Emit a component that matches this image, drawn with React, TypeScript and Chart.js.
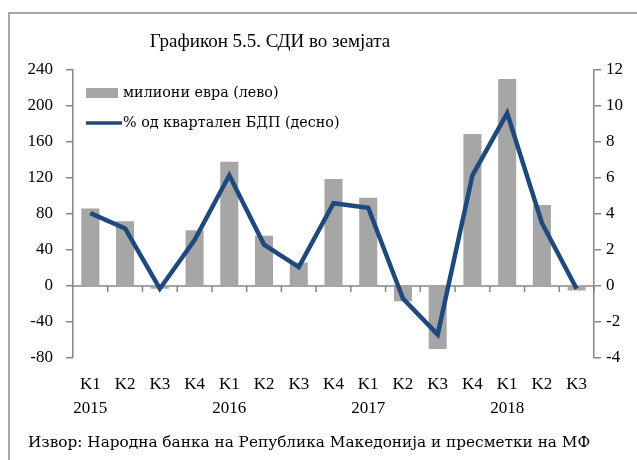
import React, { useEffect, useRef } from "react";
import { Chart, registerables } from "chart.js";

Chart.register(...registerables);

const quarters = ["K1", "K2", "K3", "K4", "K1", "K2", "K3", "K4", "K1", "K2", "K3", "K4", "K1", "K2", "K3"];
const years = ["2015", "", "", "", "2016", "", "", "", "2017", "", "", "", "2018", "", ""];
const fdiMillions = [86, 72, -3, 62, 138, 56, 26, 119, 98, -17, -70, 169, 230, 90, -5];
const fdiPctGdp = [4.05, 3.2, -0.15, 2.55, 6.15, 2.3, 1.05, 4.6, 4.35, -0.7, -2.7, 6.15, 9.6, 3.5, -0.15];
const leftTicks = [240, 200, 160, 120, 80, 40, 0, -40, -80];
const rightTicks = [12, 10, 8, 6, 4, 2, 0, -2, -4];

const titleText = "Графикон 5.5. СДИ во земјата";
const barLabel = "милиони евра (лево)";
const lineLabel = "% од квартален БДП (десно)";
const sourceText = "Извор: Народна банка на Република Македонија и пресметки на МФ";

const FONT = "'Liberation Serif', serif";
const FONT2 = "'DejaVu Serif', serif";
const AXIS = "#868686";
const BAR = "#A6A6A6";
const LINE = "#1F497D";

const decor = {
  id: "decor",
  beforeDraw(chart: any) {
    const ctx = chart.ctx;
    ctx.save();
    ctx.fillStyle = "#fff";
    ctx.fillRect(0, 0, chart.width, chart.height);
    ctx.strokeStyle = "#8c8c8c";
    ctx.lineWidth = 1.5;
    ctx.strokeRect(9, 13, chart.width + 20, chart.height + 20);
    ctx.restore();
  },
  beforeDatasetsDraw(chart: any) {
    const ctx = chart.ctx;
    const x = chart.scales.x;
    const y = chart.scales.y;
    const area = chart.chartArea;
    const y0 = y.getPixelForValue(0);
    ctx.save();
    ctx.strokeStyle = AXIS;
    ctx.lineWidth = 1.5;
    ctx.beginPath();
    ctx.moveTo(area.left, y0);
    ctx.lineTo(area.right, y0);
    const n = quarters.length;
    for (let i = 1; i <= n; i++) {
      const bx = i < n ? (x.getPixelForValue(i - 1) + x.getPixelForValue(i)) / 2 : area.right;
      ctx.moveTo(bx, y0);
      ctx.lineTo(bx, y0 + 6);
    }
    ctx.stroke();
    ctx.restore();
  },
  afterDraw(chart: any) {
    const ctx = chart.ctx;
    const area = chart.chartArea;
    ctx.save();
    ctx.fillStyle = "#000";
    ctx.textBaseline = "middle";
    ctx.textAlign = "center";
    ctx.font = `19px ${FONT}`;
    ctx.fillText(titleText, 270, 42);
    ctx.textAlign = "left";
    ctx.font = `15.3px ${FONT2}`;
    ctx.fillText(sourceText, 28, 443);
    // legend
    const lx = area.left + 13;
    const ly1 = area.top + 23;
    const ly2 = area.top + 53;
    ctx.fillStyle = BAR;
    ctx.fillRect(lx, ly1 - 5, 32, 10);
    ctx.strokeStyle = LINE;
    ctx.lineWidth = 3.5;
    ctx.beginPath();
    ctx.moveTo(lx, ly2);
    ctx.lineTo(lx + 36, ly2);
    ctx.stroke();
    ctx.fillStyle = "#000";
    ctx.font = `14.3px ${FONT2}`;
    ctx.fillText(chart.data.datasets[0].label, lx + 37, ly1);
    ctx.fillText(chart.data.datasets[1].label, lx + 37, ly2);
    ctx.restore();
  },
};

export default function App() {
  const ref = useRef<HTMLCanvasElement>(null);
  useEffect(() => {
    if (!ref.current) return;
    const chart = new Chart(ref.current, {
      type: "bar",
      data: {
        labels: quarters.map((q, i) => (years[i] ? [q, years[i]] : [q])),
        datasets: [
          {
            type: "bar",
            label: barLabel,
            data: fdiMillions,
            backgroundColor: BAR,
            yAxisID: "y",
            barPercentage: 0.52,
            categoryPercentage: 1,
            order: 2,
          },
          {
            type: "line",
            label: lineLabel,
            data: fdiPctGdp,
            borderColor: LINE,
            borderWidth: 4.5,
            pointRadius: 0,
            tension: 0,
            yAxisID: "y1",
            order: 1,
          } as any,
        ],
      },
      options: {
        responsive: false,
        animation: false,
        layout: { padding: { top: 70, bottom: 42, left: 0, right: 0 } },
        plugins: { legend: { display: false }, title: { display: false }, tooltip: { enabled: false } },
        scales: {
          x: {
            grid: { display: false, drawTicks: false },
            border: { display: false },
            ticks: { color: "#000", font: { family: FONT, size: 17, lineHeight: 1.42 }, padding: 14, maxRotation: 0, autoSkip: false },
            afterFit: (s: any) => { s.height = 60; },
          },
          y: {
            position: "left",
            min: -80,
            max: 240,
            afterBuildTicks: (s: any) => { s.ticks = leftTicks.map((v) => ({ value: v })); },
            grid: { drawOnChartArea: false, color: AXIS, tickLength: 7, lineWidth: 1.5 },
            border: { color: AXIS, width: 1.5 },
            ticks: { color: "#000", font: { family: FONT, size: 17 }, padding: 13 },
            afterFit: (s: any) => { s.width = 73; },
          },
          y1: {
            position: "right",
            min: -4,
            max: 12,
            afterBuildTicks: (s: any) => { s.ticks = rightTicks.map((v) => ({ value: v })); },
            grid: { drawOnChartArea: false, color: AXIS, tickLength: 7, lineWidth: 1.5 },
            border: { color: AXIS, width: 1.5 },
            ticks: { color: "#000", font: { family: FONT, size: 17 }, padding: 5 },
            afterFit: (s: any) => { s.width = 43; },
          },
        },
      },
      plugins: [decor],
    });
    return () => chart.destroy();
  }, []);
  return (
    <div style={{ position: "absolute", left: 0, top: 0, width: 637, height: 460 }}>
      <canvas ref={ref} width={637} height={460} style={{ display: "block" }} />
    </div>
  );
}
